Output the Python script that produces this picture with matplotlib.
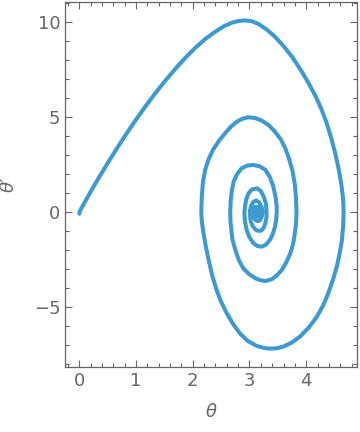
import matplotlib
matplotlib.use("Agg")
import matplotlib.pyplot as plt
from matplotlib.ticker import MultipleLocator

# Phase-space trajectory (theta, theta'), one list pair per half-turn
rise_theta = [0.00, 0.01, 0.04, 0.12, 0.23, 0.35, 0.50, 0.66, 0.83, 1.00,
              1.17, 1.35, 1.53, 1.71, 1.89, 2.06, 2.22, 2.38, 2.54, 2.69, 2.81]
rise_dot = [-0.08, 0.06, 0.23, 0.66, 1.24, 1.85, 2.59, 3.35, 4.13, 4.88,
            5.59, 6.31, 6.98, 7.61, 8.20, 8.70, 9.12, 9.47, 9.78, 9.98, 10.07]

turn1_theta = [2.92, 3.04, 3.16, 3.30, 3.45, 3.60, 3.75, 3.90, 4.04, 4.17,
               4.27, 4.36, 4.44, 4.51, 4.57, 4.62, 4.65, 4.66, 4.65, 4.63,
               4.59, 4.54, 4.47, 4.39, 4.30, 4.19, 4.05, 3.89, 3.74, 3.60,
               3.48, 3.36, 3.25, 3.13, 2.97, 2.83, 2.71, 2.60, 2.50, 2.42,
               2.34, 2.28, 2.23, 2.19, 2.16]
turn1_dot = [10.10, 10.06, 9.91, 9.63, 9.24, 8.75, 8.19, 7.51, 6.81, 6.08,
             5.42, 4.70, 3.92, 3.12, 2.31, 1.46, 0.71, 0.00, -0.75, -1.46,
             -2.16, -2.86, -3.56, -4.26, -4.90, -5.49, -6.05, -6.55, -6.87, -7.07,
             -7.16, -7.18, -7.14, -7.04, -6.78, -6.37, -5.88, -5.32, -4.72, -4.09,
             -3.30, -2.51, -1.80, -1.11, -0.50]

turn2_theta = [2.15, 2.16, 2.18, 2.22, 2.28, 2.36, 2.46, 2.57, 2.67, 2.78,
               2.88, 2.98, 3.10, 3.22, 3.34, 3.45, 3.55, 3.63, 3.70, 3.76,
               3.80, 3.82, 3.83, 3.82, 3.80, 3.77, 3.72, 3.65, 3.57, 3.48,
               3.39, 3.28, 3.19, 3.10, 2.99, 2.89, 2.81, 2.75, 2.70, 2.68,
               2.665]
turn2_dot = [0.00, 0.85, 1.60, 2.25, 2.80, 3.30, 3.75, 4.16, 4.50, 4.77,
             4.93, 5.00, 4.96, 4.82, 4.58, 4.24, 3.85, 3.38, 2.80, 2.15,
             1.45, 0.75, 0.00, -0.60, -1.10, -1.65, -2.16, -2.63, -3.04, -3.33,
             -3.53, -3.62, -3.58, -3.47, -3.25, -2.95, -2.50, -1.98, -1.45, -0.93,
             -0.50]

turn3_theta = [2.66, 2.67, 2.69, 2.72, 2.78, 2.86, 2.96, 3.07, 3.18, 3.28,
               3.36, 3.42, 3.46, 3.48, 3.48, 3.47, 3.45, 3.41, 3.36, 3.29,
               3.22, 3.14, 3.07, 3.00, 2.95, 2.92]
turn3_dot = [0.00, 0.65, 1.15, 1.61, 2.00, 2.31, 2.46, 2.49, 2.42, 2.23,
             1.85, 1.35, 0.80, 0.30, -0.05, -0.40, -0.76, -1.15, -1.46, -1.70,
             -1.81, -1.78, -1.63, -1.32, -0.93, -0.48]

core_theta = [2.91, 2.92, 2.94, 2.98, 3.04, 3.13, 3.20, 3.25, 3.29, 3.30,
              3.30, 3.28, 3.25, 3.21, 3.15, 3.10, 3.05, 3.02, 3.01, 3.01,
              3.03, 3.07, 3.12, 3.17, 3.21, 3.23, 3.22, 3.19, 3.15, 3.11,
              3.07, 3.06, 3.07, 3.10, 3.14, 3.17, 3.19, 3.18, 3.15, 3.12,
              3.10, 3.11, 3.13, 3.15, 3.16, 3.15, 3.14, 3.14]
core_dot = [-0.05, 0.30, 0.65, 0.98, 1.20, 1.26, 1.12, 0.82, 0.45, 0.10,
            -0.25, -0.58, -0.82, -0.96, -0.98, -0.90, -0.70, -0.45, -0.15, 0.10,
            0.35, 0.55, 0.62, 0.52, 0.30, 0.05, -0.20, -0.40, -0.47, -0.42,
            -0.25, 0.00, 0.18, 0.28, 0.28, 0.16, 0.00, -0.15, -0.22, -0.18,
            -0.05, 0.08, 0.12, 0.08, 0.00, -0.06, -0.05, 0.00]

theta = rise_theta + turn1_theta + turn2_theta + turn3_theta + core_theta
theta_dot = rise_dot + turn1_dot + turn2_dot + turn3_dot + core_dot

x_ticks = [0, 1, 2, 3, 4]
y_ticks = [-5, 0, 5, 10]
y_tick_labels = ["\u22125", "0", "5", "10"]

gray = "#666666"
fig = plt.figure(figsize=(3.6, 4.32), dpi=100)
ax = fig.add_axes([0.1814, 0.1512, 0.8094, 0.8442])
ax.plot(theta, theta_dot, color="#3d9ad1", lw=2.9, solid_capstyle="round",
        solid_joinstyle="round")

ax.set_xlim(-0.247, 4.89)
ax.set_ylim(-8.13, 11.07)
ax.set_xticks(x_ticks)
ax.set_yticks(y_ticks)
ax.set_yticklabels(y_tick_labels)
ax.xaxis.set_minor_locator(MultipleLocator(0.2))
ax.yaxis.set_minor_locator(MultipleLocator(1))
ax.tick_params(which="both", direction="in", top=True, right=True,
               color=gray, labelcolor=gray, labelsize=13, width=0.8)
ax.tick_params(which="major", length=5)
ax.tick_params(which="minor", length=3)
for s in ax.spines.values():
    s.set_color(gray)
    s.set_linewidth(0.9)

ax.set_xlabel("\u03b8", fontsize=13, color=gray, style="italic", labelpad=10)
ax.set_ylabel("\u03b8\u2032", fontsize=13, color=gray, style="italic", labelpad=12)

fig.savefig("out.png", dpi=100)
